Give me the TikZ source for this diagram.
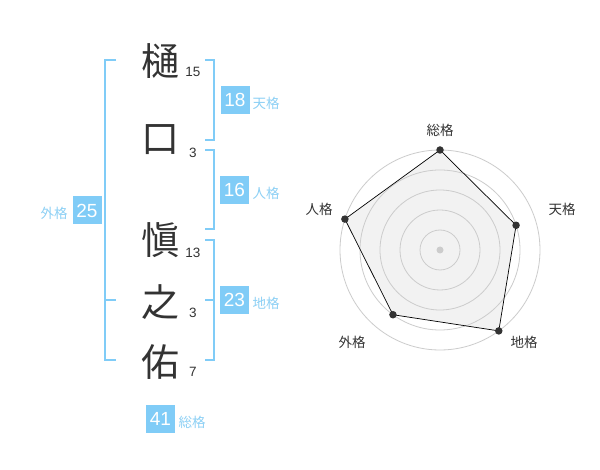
\documentclass[tikz,border=0pt]{standalone}
\usepackage{fontspec}
\setmainfont{Liberation Sans}
\newfontfamily\cjk{Noto Sans CJK JP}
\definecolor{kblue}{HTML}{80CCF7}
\definecolor{klabel}{HTML}{8CD0F5}
\definecolor{kink}{HTML}{333333}
\definecolor{kgrid}{HTML}{CCCCCC}
\definecolor{kfill}{HTML}{F2F2F2}
\tikzset{
 kanji/.style={font=\cjk\fontsize{38}{38}\selectfont, text=kink, inner sep=0pt},
 strokes/.style={font=\fontsize{13.5}{13.5}\selectfont, text=kink, inner sep=0pt},
 gbox/.style={fill=kblue, text=white, minimum width=29pt, minimum height=28pt, inner sep=0pt, font=\fontsize{19}{19}\selectfont},
 glabel/.style={text=klabel, font=\cjk\fontsize{13.5}{13.5}\selectfont, inner sep=0pt},
 bracket/.style={draw=kblue, line width=2pt},
 rlabel/.style={text=kink, font=\cjk\fontsize{13.5}{13.5}\selectfont, inner sep=0pt},
 gridline/.style={draw=kgrid, line width=0.8pt},
 vdot/.style={circle, fill=kink, inner sep=0pt, minimum size=7.5pt},
}
\begin{document}
\begin{tikzpicture}[x=1pt,y=-1pt]
\useasboundingbox[fill=white] (0,0) rectangle (600,470);
% characters
\node[kanji] (k1) at (160,61) {樋};
\node[kanji] (k2) at (160,140) {口};
\node[kanji] (k3) at (160,240) {愼};
\node[kanji] (k4) at (160,302) {之};
\node[kanji] (k5) at (160,362) {佑};
% stroke counts
\node[strokes] (s1) at (193,72) {15};
\node[strokes] (s2) at (193,153) {3};
\node[strokes] (s3) at (193,253) {13};
\node[strokes] (s4) at (193,313) {3};
\node[strokes] (s5) at (193,372) {7};
% brackets
\draw[bracket] (116,60) -- (105,60) -- (105,360) -- (116,360);
\draw[bracket] (105,300) -- (116,300);
\draw[bracket] (205,60) -- (214,60) -- (214,140) -- (205,140);
\draw[bracket] (205,150) -- (214,150) -- (214,229) -- (205,229);
\draw[bracket] (205,240) -- (214,240) -- (214,360) -- (205,360);
\draw[bracket] (205,300) -- (214,300);
% boxes
\node[gbox] (b1) at (235,100) {18};
\node[glabel] (l1) at (266,103) {天格};
\node[gbox] (b2) at (234.5,190) {16};
\node[glabel] (l2) at (266,193) {人格};
\node[gbox] (b3) at (234.5,300) {23};
\node[glabel] (l3) at (266,303) {地格};
\node[gbox] (b4) at (87,210.5) {25};
\node[glabel] (l4) at (54,213) {外格};
\node[gbox] (b5) at (160.5,419) {41};
\node[glabel] (l5) at (192,422) {総格};
% radar
\coordinate (c) at (440,250);
\path (c) ++(90:100pt) coordinate (p1);
\path (c) ++(18:80pt) coordinate (p2);
\path (c) ++(-54:100pt) coordinate (p3);
\path (c) ++(-126:80pt) coordinate (p4);
\path (c) ++(162:100pt) coordinate (p5);
\fill[kfill] (p1) -- (p2) -- (p3) -- (p4) -- (p5) -- cycle;
\foreach \r in {20,40,60,80,100} {\draw[gridline] (c) circle[radius=\r pt];}
\fill[kgrid] (c) circle[radius=3.5pt];
\draw[black, line width=0.7pt] (p1) -- (p2) -- (p3) -- (p4) -- (p5) -- cycle;
\foreach \p in {p1,p2,p3,p4,p5} {\node[vdot] at (\p) {};}
\node[rlabel] (r1) at (440,130) {総格};
\node[rlabel] (r2) at (562,209) {天格};
\node[rlabel] (r3) at (524,342) {地格};
\node[rlabel] (r4) at (352,342) {外格};
\node[rlabel] (r5) at (319,209) {人格};
\end{tikzpicture}
\end{document}
